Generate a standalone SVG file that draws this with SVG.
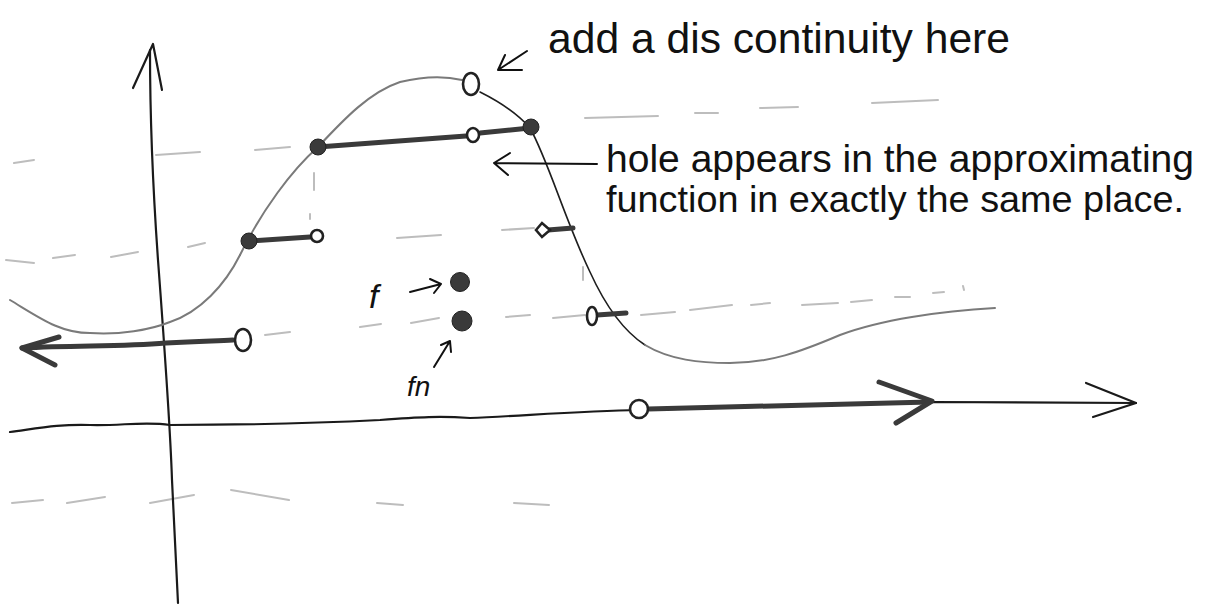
<svg xmlns="http://www.w3.org/2000/svg" width="1214" height="605" viewBox="0 0 1214 605">
<style>
.faint{fill:none;stroke:#bdbdbd;stroke-width:2;stroke-linecap:round}
.axis{fill:none;stroke:#1a1a1a;stroke-width:2.2;stroke-linecap:round;stroke-linejoin:round}
.curve{fill:none;stroke:#7a7a7a;stroke-width:2;stroke-linecap:round}
.curvedark{fill:none;stroke:#1e1e1e;stroke-width:1.6;stroke-linecap:round}
.step{fill:none;stroke:#3a3a3a;stroke-width:5;stroke-linecap:round;stroke-linejoin:round}
.open{fill:#fff;stroke:#222;stroke-width:2.6}
.dot{fill:#3a3a3a;stroke:#222;stroke-width:1}
.pen{fill:none;stroke:#111;stroke-width:2;stroke-linecap:round;stroke-linejoin:round}
.hand{font-family:"Liberation Sans","DejaVu Sans",sans-serif;fill:#111}
</style>
<rect width="1214" height="605" fill="#fff"/>

<g id="guide-dashes">
<path class="faint" d="M14,163 L34,160 M156,155 L200,152 M255,150 L290,147 M585,118 L658,116 M695,113 L718,113 M760,108 L798,107 M872,103 L938,100"/>
<path class="faint" d="M6,260 L34,263 M53,258 L75,255 M111,257 L138,252 M188,247 L205,243 M397,238 L441,235 M502,230 L534,228"/>
<path class="faint" d="M265,335 L290,332 M360,327 L381,324 M411,323 L439,318 M506,317 L530,315 M553,318 L585,315 M641,315 L675,312 M690,310 L732,305 M751,305 L770,303 M802,305 L838,303 M851,302 L872,300 M895,297 L910,297 M933,293 L944,292 M963,286 L964,290"/>
<path class="faint" d="M12,503 L43,500 M67,503 L105,497 M150,503 L194,495 M231,490 L289,500 M377,503 L403,505 M514,503 L549,505"/>
<path class="faint" stroke-width="1.5" d="M314,173 L314,190 M310,214 L310,219 M583,267 L583,280"/>
</g>

<g id="axes">
<path class="axis" d="M150,50 C150,120 153,190 158,260 C164,340 170,420 172,480 C175,540 177,575 178,603"/>
<path class="axis" stroke-width="2.6" d="M133,88 L153,44 L162,90"/>
<path class="axis" stroke-width="3" stroke="#2a2a2a" d="M10,432 C40,428 60,424 90,425 C120,426 145,421 170,425 C230,425 300,424 380,420 C420,417 440,416 470,418 C520,416 580,411 640,410 L932,402 L1136,403"/>
<path class="axis" stroke-width="3" stroke="#555" d="M1086,383 L1136,403 L1093,417"/>
</g>

<g id="function-f">
<path class="curve" stroke-width="2.6" d="M10,300 C40,318 60,333 90,333 C120,335 150,330 170,322 C200,312 225,285 240,255"/>
<path class="curve" d="M240,255 C262,210 292,170 318,147 C345,118 370,92 400,82 C425,76 445,76 462,80"/>
<path class="curvedark" d="M480,92 C500,102 518,114 530,128 C548,160 565,220 590,272 C605,305 622,330 645,345"/>
<path class="curve" stroke="#555" stroke-width="3" d="M645,345 C670,360 700,363 730,363 C770,363 800,352 840,335 C880,320 940,311 995,308"/>
</g>

<g id="approximation-fn">
<path class="step" stroke="#4a4a4a" d="M22,348 C80,345 120,347 166,343 C200,341 215,341 233,340"/>
<path class="step" stroke="#4a4a4a" stroke-width="4" d="M59,337 L22,348 L55,365"/>
<ellipse class="open" cx="243" cy="340" rx="8" ry="11"/>
<path class="step" d="M249,241 L310,237"/>
<circle class="dot" cx="249" cy="241" r="8"/>
<circle class="open" cx="317" cy="236" r="6"/>
<path class="step" d="M318,147 L466,136 M480,133 L530,128"/>
<circle class="dot" cx="318" cy="147" r="8"/>
<circle class="dot" cx="531" cy="127" r="8"/>
<ellipse class="open" cx="473" cy="135" rx="6" ry="7"/>
<path class="step" d="M548,230 L573,228"/>
<path class="open" d="M536,230 L542,223 L550,230 L542,237 Z"/>
<path class="step" d="M597,315 L626,313"/>
<ellipse class="open" cx="592" cy="316" rx="5" ry="9"/>
<path class="step" stroke="#333" stroke-width="8" d="M648,409 L930,402"/>
<path class="step" stroke="#333" stroke-width="6" d="M879,382 L932,401 L896,423"/>
<circle class="open" cx="639" cy="409" r="9"/>
</g>

<g id="discontinuity-hole">
<ellipse class="open" cx="471" cy="84" rx="8" ry="11"/>
</g>

<g id="values">
<circle class="dot" cx="460" cy="282" r="9.5"/>
<circle class="dot" cx="462" cy="321" r="10"/>
<text class="hand" x="369" y="308" font-size="34" font-style="italic">f</text>
<path class="pen" stroke-width="3" d="M410,292 L441,284 M430,279 L441,284 L434,293"/>
<text class="hand" x="407" y="396" font-size="28" font-style="italic">fn</text>
<path class="pen" stroke-width="2.5" d="M434,367 L450,341 M441,345 L450,341 L451,352"/>
</g>

<g id="labels">
<path class="pen" stroke-width="4" d="M527,51 L498,70 M498,70 L505,55 M498,70 L522,70"/>
<text class="hand" x="548" y="53" font-size="42" textLength="462" lengthAdjust="spacingAndGlyphs">add a dis continuity here</text>
<path class="pen" d="M597,164 L494,163 M510,153 L494,163 L508,175"/>
<text class="hand" x="606" y="172" font-size="38" textLength="588" lengthAdjust="spacingAndGlyphs">hole appears in the approximating</text>
<text class="hand" x="606" y="212" font-size="37.5" textLength="578" lengthAdjust="spacingAndGlyphs">function in exactly the same place.</text>
</g>
</svg>
